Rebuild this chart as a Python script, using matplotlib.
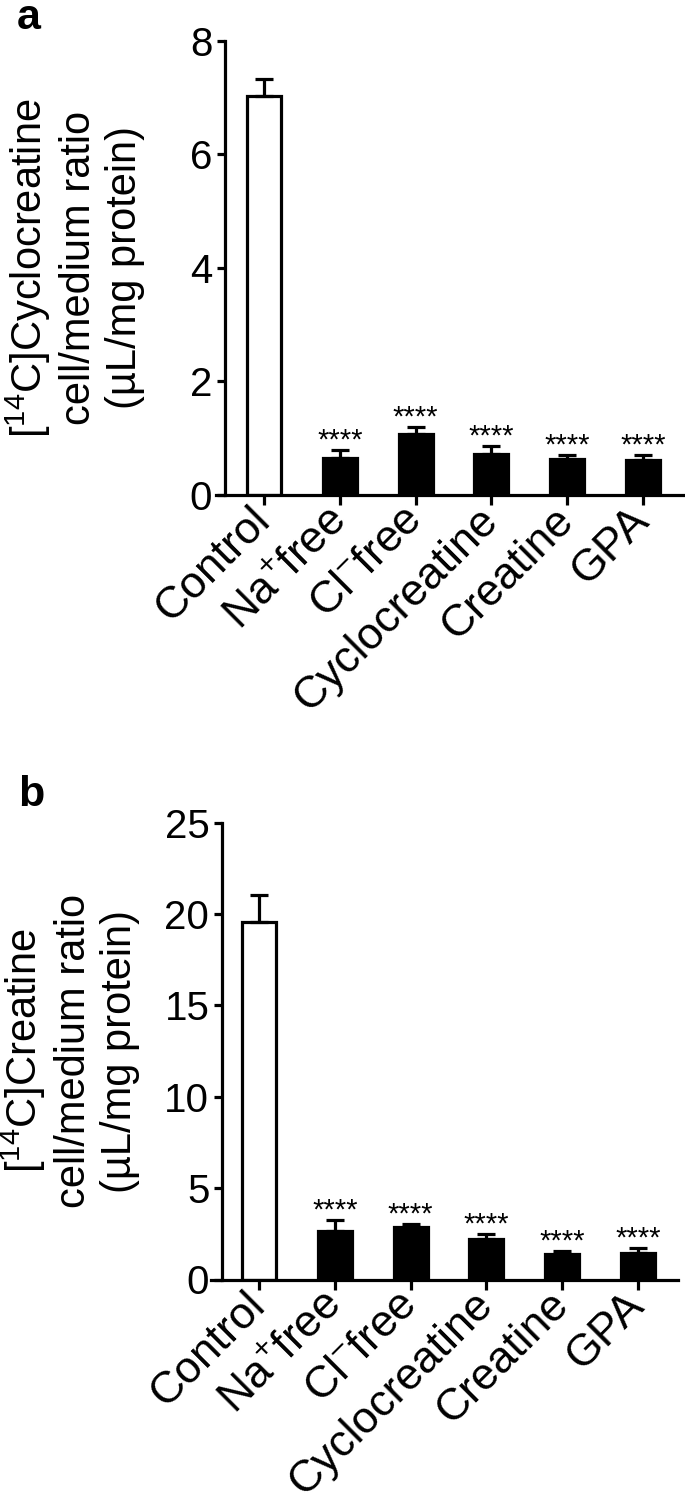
import numpy as np
import matplotlib
matplotlib.use("Agg")
import matplotlib.pyplot as plt

plt.rcParams.update({
    "font.family": ["Liberation Sans", "DejaVu Sans"],
    "mathtext.fontset": "custom",
    "mathtext.rm": "Liberation Sans",
    "mathtext.default": "regular",
})

CATEGORIES = ["Control", r"Na$^{+}$free", r"Cl$^{-}$free", "Cyclocreatine", "Creatine", "GPA"]

# panel a: [14C]cyclocreatine uptake
CYCLO_MEAN = [7.02, 0.645, 1.07, 0.72, 0.64, 0.62]
CYCLO_SEM = [0.30, 0.155, 0.13, 0.14, 0.06, 0.08]

# panel b: [14C]creatine uptake
CREAT_MEAN = [19.56, 2.63, 2.85, 2.24, 1.38, 1.47]
CREAT_SEM = [1.49, 0.65, 0.18, 0.26, 0.17, 0.28]

STARS = ["", "****", "****", "****", "****", "****"]

W, H = 685, 1501
LW = 2.3


def draw_panel(ax, means, sems, ymax, yticks, ylabel, spine_x):
    x = np.arange(len(means))
    colors = ["white"] + ["black"] * (len(means) - 1)
    ax.bar(x, means, width=0.45, color=colors, edgecolor="black", linewidth=LW, zorder=2)
    ax.errorbar(x, means, yerr=[np.zeros(len(sems)), sems], fmt="none", ecolor="black",
                elinewidth=LW, capsize=6.5, capthick=LW, zorder=3)
    for i, s in enumerate(STARS):
        if s:
            ax.annotate(s, xy=(i, means[i] + sems[i]), xytext=(0, 1), textcoords="offset points",
                        ha="center", va="baseline", fontsize=21)

    ax.set_xlim(-0.633, 5.528)
    ax.set_ylim(0, ymax)
    ax.set_yticks(yticks)
    ax.set_xticks(x)
    ax.set_xticklabels(CATEGORIES, rotation=45, rotation_mode="anchor", ha="right", va="center",
                       fontsize=32)
    ax.tick_params(axis="y", labelsize=29, length=6, width=LW, pad=3)
    ax.tick_params(axis="x", length=7, width=LW, pad=6.5)

    for side in ["top", "right"]:
        ax.spines[side].set_visible(False)
    ax.spines["left"].set_position(("data", spine_x))
    ax.spines["left"].set_linewidth(LW)
    ax.spines["bottom"].set_linewidth(LW)

    ax.set_ylabel(ylabel, fontsize=30, multialignment="center", linespacing=1.2)
    ax.yaxis.set_label_coords(-0.152, 0.5)
    ax.yaxis.label.set_va("bottom")


fig = plt.figure(figsize=(W / 100, H / 100), dpi=100)

ax_a = fig.add_axes([216 / W, 1 - 495 / H, 467 / W, (495 - 40.7) / H])
draw_panel(ax_a, CYCLO_MEAN, CYCLO_SEM, 8, [0, 2, 4, 6, 8],
           "[$^{14}$C]Cyclocreatine\ncell/medium ratio\n(\u00b5L/mg protein)", -0.518)

ax_b = fig.add_axes([211 / W, 1 - 1279.5 / H, 467 / W, (1279.5 - 822.7) / H])
draw_panel(ax_b, CREAT_MEAN, CREAT_SEM, 25, [0, 5, 10, 15, 20, 25],
           "[$^{14}$C]Creatine\ncell/medium ratio\n(\u00b5L/mg protein)", -0.49)

fig.text(17 / W, 1 - 29 / H, "a", fontsize=31, fontweight="bold", va="baseline")
fig.text(18 / W, 1 - 806 / H, "b", fontsize=31, fontweight="bold", va="baseline")

fig.savefig("out.png", dpi=100)
